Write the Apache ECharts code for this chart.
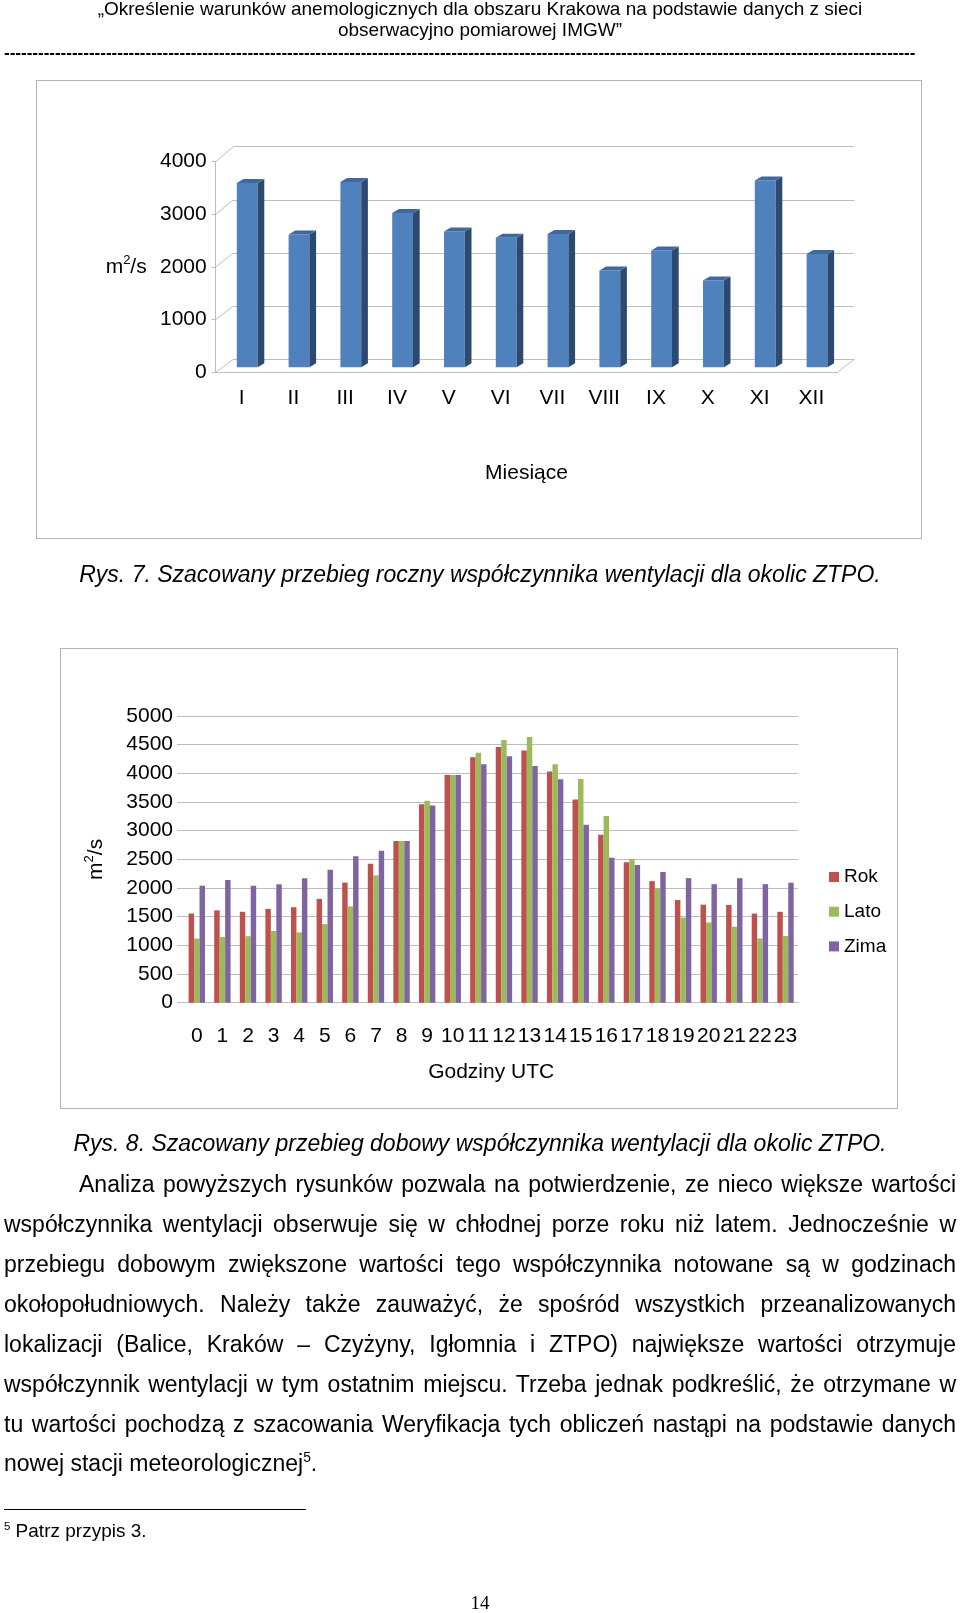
<!DOCTYPE html>
<html>
<head>
<meta charset="utf-8">
<script src="https://cdn.jsdelivr.net/npm/echarts@6/dist/echarts.min.js"></script>
<style>
body{margin:0;background:#fff;}
#page{position:relative;width:960px;height:1613px;font-family:"Liberation Sans",Arial,sans-serif;color:#000;overflow:hidden;background:#fff;}
#chart{position:absolute;left:0;top:0;width:960px;height:1613px;}
.box{position:absolute;border:1px solid #b4b4b4;box-sizing:border-box;}
.t{position:absolute;white-space:nowrap;}
.hdr{left:0;width:960px;text-align:center;font-size:19px;line-height:20px;}
.dash{left:4px;width:912px;overflow:hidden;font-size:17px;font-weight:bold;line-height:20px;}
.cap{left:0;width:960px;text-align:center;font-size:23px;font-style:italic;line-height:26px;}
.ln{left:4px;width:952px;font-size:23px;line-height:26px;text-align:justify;text-align-last:justify;}
sup{font-size:60%;line-height:0;}
</style>
</head>
<body>
<div id="page">
  <div class="box" style="left:36px;top:80px;width:886px;height:459px;"></div>
  <div class="box" style="left:60px;top:648px;width:838px;height:461px;"></div>
  <div id="chart"></div>

  <div class="t hdr" style="top:-1px;">„Określenie warunków anemologicznych dla obszaru Krakowa na podstawie danych z sieci</div>
  <div class="t hdr" style="top:20px;">obserwacyjno pomiarowej IMGW”</div>
  <div class="t dash" id="dash" style="top:43px;"></div>

  <div class="t cap" style="top:561px;">Rys. 7. Szacowany przebieg roczny współczynnika wentylacji dla okolic ZTPO.</div>
  <div class="t cap" style="top:1130px;">Rys. 8. Szacowany przebieg dobowy współczynnika wentylacji dla okolic ZTPO.</div>

  <div class="t ln" style="top:1171px;left:79px;width:877px;">Analiza powyższych rysunków pozwala na potwierdzenie, ze nieco większe wartości</div>
  <div class="t ln" style="top:1211px;">współczynnika wentylacji obserwuje się w chłodnej porze roku niż latem. Jednocześnie w</div>
  <div class="t ln" style="top:1251px;">przebiegu dobowym zwiększone wartości tego współczynnika notowane są w godzinach</div>
  <div class="t ln" style="top:1291px;">okołopołudniowych. Należy także zauważyć, że spośród wszystkich przeanalizowanych</div>
  <div class="t ln" style="top:1331px;">lokalizacji (Balice, Kraków – Czyżyny, Igłomnia i ZTPO) największe wartości otrzymuje</div>
  <div class="t ln" style="top:1371px;">współczynnik wentylacji w tym ostatnim miejscu. Trzeba jednak podkreślić, że otrzymane w</div>
  <div class="t ln" style="top:1411px;">tu wartości pochodzą z szacowania Weryfikacja tych obliczeń nastąpi na podstawie danych</div>
  <div class="t" style="top:1450px;left:4px;font-size:23px;line-height:26px;">nowej stacji meteorologicznej<sup>5</sup>.</div>

  <div style="position:absolute;left:4px;top:1509px;width:302px;height:1px;background:#000;"></div>
  <div class="t" style="top:1520px;left:4px;font-size:19px;line-height:22px;"><sup>5</sup> Patrz przypis 3.</div>
  <div class="t" style="top:1592px;left:0;width:960px;text-align:center;font-family:'Liberation Serif',serif;font-size:19px;line-height:22px;">14</div>
</div>

<script>
// Rys. 7 - przebieg roczny
var months = ['I', 'II', 'III', 'IV', 'V', 'VI', 'VII', 'VIII', 'IX', 'X', 'XI', 'XII'];
var monthValues = [3500, 2520, 3520, 2930, 2580, 2460, 2530, 1840, 2220, 1650, 3550, 2150];
var monthTicks = [0, 1000, 2000, 3000, 4000];

// Rys. 8 - przebieg dobowy
var hours = ['0', '1', '2', '3', '4', '5', '6', '7', '8', '9', '10', '11',
             '12', '13', '14', '15', '16', '17', '18', '19', '20', '21', '22', '23'];
var rok  = [1555, 1610, 1585, 1635, 1665, 1810, 2095, 2425, 2820, 3460, 3970, 4280,
            4460, 4400, 4030, 3545, 2930, 2450, 2120, 1790, 1710, 1705, 1555, 1585];
var lato = [1120, 1145, 1160, 1250, 1225, 1370, 1680, 2220, 2820, 3520, 3970, 4360,
            4580, 4635, 4160, 3900, 3257, 2505, 1995, 1485, 1400, 1325, 1120, 1165];
var zima = [2040, 2140, 2040, 2065, 2170, 2320, 2555, 2650, 2820, 3440, 3970, 4160,
            4300, 4130, 3895, 3105, 2530, 2400, 2278, 2172, 2068, 2172, 2068, 2093];

document.getElementById('dash').textContent = new Array(200).join('-');

var FONT = 'Liberation Sans';
var GRID_LINE = '#bdbdbd';

function plain(v) { return String(v); }

function renderBar3d(params, api) {
    var cat = api.value(0);
    var base = api.coord([cat, 0]);
    var top = api.coord([cat, api.value(1)]);
    var x0 = base[0] - 4.8, x1 = base[0] + 16;
    var y0 = base[1] - 5, y1 = top[1] - 5;
    var dx = 6.7, dy = 4;
    return {
        type: 'group',
        children: [
            {type: 'rect', shape: {x: x0, y: y1, width: x1 - x0, height: y0 - y1}, style: {fill: '#4f81bd'}},
            {type: 'polygon', shape: {points: [[x1, y1], [x1 + dx, y1 - dy], [x1 + dx, y0 - dy], [x1, y0]]}, style: {fill: '#2c4a70'}},
            {type: 'polygon', shape: {points: [[x0, y1], [x0 + dx, y1 - dy], [x1 + dx, y1 - dy], [x1, y1]]}, style: {fill: '#3d69a2'}}
        ]
    };
}

// skosne linie laczace os z tylna sciana
function renderWall(params, api) {
    var v = api.value(1);
    var p = api.coord([0, v]);
    var cs = params.coordSys;
    var dy = 13 + 2 * v / 4000;
    var lines = [{type: 'line', shape: {x1: cs.x, y1: p[1], x2: cs.x + 17.6, y2: p[1] - dy}, style: {stroke: GRID_LINE, lineWidth: 1}}];
    if (v === 0) {
        lines.push({type: 'line', shape: {x1: cs.x + cs.width, y1: p[1], x2: cs.x + cs.width + 17, y2: p[1] - 13}, style: {stroke: GRID_LINE, lineWidth: 1}});
    }
    return {type: 'group', children: lines};
}

var chart = echarts.init(document.getElementById('chart'));

var option = {
    animation: false,
    textStyle: {fontFamily: FONT, color: '#000'},
    legend: {
        data: ['Rok', 'Lato', 'Zima'],
        orient: 'vertical',
        left: 829,
        top: 867,
        padding: 0,
        itemWidth: 10,
        itemHeight: 10,
        itemGap: 14.7,
        icon: 'rect',
        textStyle: {fontFamily: FONT, fontSize: 19, lineHeight: 20, color: '#000'}
    },
    grid: [
        {left: 233.3, top: 146.7, width: 621, height: 212.6},
        {left: 215.7, top: 161.7, width: 621.6, height: 210.6},
        {left: 184, top: 716, width: 614.3, height: 286.7}
    ],
    xAxis: [
        {gridIndex: 0, type: 'category', data: months, show: false},
        {
            gridIndex: 1, type: 'category', data: months,
            axisLine: {lineStyle: {color: GRID_LINE}},
            axisTick: {length: 4, lineStyle: {color: GRID_LINE}},
            axisLabel: {fontSize: 21, color: '#000', margin: 15, interval: 0},
            name: 'Miesiące', nameLocation: 'middle', nameGap: 90,
            nameTextStyle: {fontSize: 21, color: '#000'}
        },
        {
            gridIndex: 2, type: 'category', data: hours,
            axisLine: {lineStyle: {color: GRID_LINE}},
            axisTick: {length: 6, lineStyle: {color: GRID_LINE}},
            axisLabel: {fontSize: 21, color: '#000', margin: 23, interval: 0, hideOverlap: false},
            name: 'Godziny UTC', nameLocation: 'middle', nameGap: 59,
            nameTextStyle: {fontSize: 21, color: '#000'}
        }
    ],
    yAxis: [
        {
            gridIndex: 0, type: 'value', min: 0, max: 4000, interval: 1000,
            axisLine: {show: false}, axisTick: {show: false}, axisLabel: {show: false},
            splitLine: {lineStyle: {color: GRID_LINE}}
        },
        {
            gridIndex: 1, type: 'value', min: 0, max: 4000, interval: 1000,
            axisLine: {show: true, lineStyle: {color: GRID_LINE}},
            axisTick: {show: true, length: 4, lineStyle: {color: GRID_LINE}},
            axisLabel: {fontSize: 21, color: '#000', margin: 9, formatter: plain},
            splitLine: {show: false},
            name: '{b|m}{s|2}{b|/s}', nameLocation: 'middle', nameRotate: 0, nameGap: 69,
            nameTextStyle: {
                rich: {
                    b: {fontSize: 21, lineHeight: 26, color: '#000', fontFamily: FONT},
                    s: {fontSize: 13, lineHeight: 26, verticalAlign: 'top', color: '#000', fontFamily: FONT}
                }
            }
        },
        {
            gridIndex: 2, type: 'value', min: 0, max: 5000, interval: 500,
            axisLine: {show: false},
            axisTick: {show: true, length: 7, lineStyle: {color: GRID_LINE}},
            axisLabel: {fontSize: 21, color: '#000', margin: 11, formatter: plain},
            splitLine: {lineStyle: {color: GRID_LINE}},
            name: '{b|m}{s|2}{b|/s}', nameLocation: 'middle', nameRotate: 90, nameGap: 75,
            nameTextStyle: {
                rich: {
                    b: {fontSize: 21, lineHeight: 26, color: '#000', fontFamily: FONT},
                    s: {fontSize: 13, lineHeight: 26, verticalAlign: 'top', color: '#000', fontFamily: FONT}
                }
            }
        }
    ],
    series: [
        {
            type: 'custom', xAxisIndex: 1, yAxisIndex: 1, silent: true,
            renderItem: renderWall,
            data: monthTicks.map(function (v) { return [0, v]; })
        },
        {
            type: 'custom', xAxisIndex: 1, yAxisIndex: 1,
            renderItem: renderBar3d,
            data: monthValues.map(function (v, i) { return [i, v]; })
        },
        {name: 'Rok', type: 'bar', xAxisIndex: 2, yAxisIndex: 2, data: rok,
         itemStyle: {color: '#c0504d'}, barGap: '0%', barCategoryGap: '36%'},
        {name: 'Lato', type: 'bar', xAxisIndex: 2, yAxisIndex: 2, data: lato,
         itemStyle: {color: '#9bbb59'}, barGap: '0%', barCategoryGap: '36%'},
        {name: 'Zima', type: 'bar', xAxisIndex: 2, yAxisIndex: 2, data: zima,
         itemStyle: {color: '#8064a2'}, barGap: '0%', barCategoryGap: '36%'}
    ]
};

chart.setOption(option);
</script>
</body>
</html>
